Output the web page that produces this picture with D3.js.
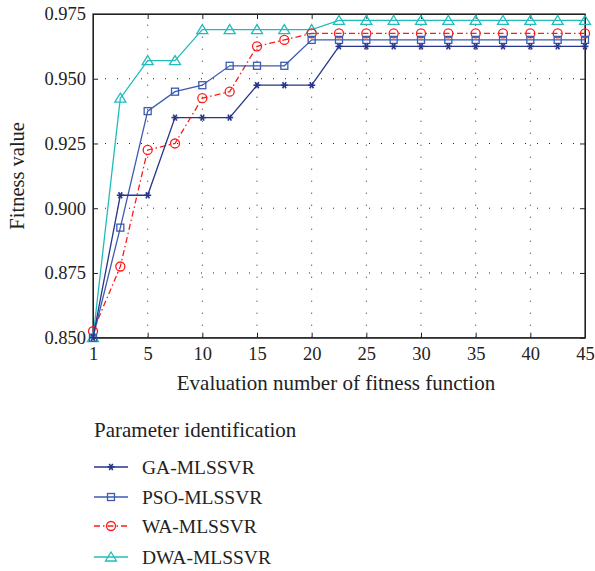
<!DOCTYPE html>
<html>
<head>
<meta charset="utf-8">
<script src="https://cdn.jsdelivr.net/npm/d3@7"></script>
<style>
  body { margin: 0; background: #fff; }
  text { font-family: "Liberation Serif", "DejaVu Serif", serif; }
</style>
</head>
<body>
<div id="chart"></div>
<script>
const W = 595, H = 571;
const margin = {left: 93, top: 14, right: 10, bottom: 233};

// evaluation points (first point drawn at the "1" tick)
const xValues = [0, 2.5, 5, 7.5, 10, 12.5, 15, 17.5, 20, 22.5, 25, 27.5, 30, 32.5, 35, 37.5, 40, 42.5, 45];
const xTicks = [0, 5, 10, 15, 20, 25, 30, 35, 40, 45];
const xTickLabels = ['1', '5', '10', '15', '20', '25', '30', '35', '40', '45'];
const yTicks = [0.850, 0.875, 0.900, 0.925, 0.950, 0.975];

const gaValues  = [0.850, 0.905, 0.905, 0.935, 0.935, 0.935, 0.9475, 0.9475, 0.9475, 0.9625, 0.9625, 0.9625, 0.9625, 0.9625, 0.9625, 0.9625, 0.9625, 0.9625, 0.9625];
const psoValues = [0.850, 0.8925, 0.9375, 0.945, 0.9475, 0.955, 0.955, 0.955, 0.965, 0.965, 0.965, 0.965, 0.965, 0.965, 0.965, 0.965, 0.965, 0.965, 0.965];
const waValues  = [0.8525, 0.8775, 0.9225, 0.925, 0.9425, 0.945, 0.9625, 0.965, 0.9675, 0.9675, 0.9675, 0.9675, 0.9675, 0.9675, 0.9675, 0.9675, 0.9675, 0.9675, 0.9675];
const dwaValues = [0.850, 0.9425, 0.957, 0.957, 0.969, 0.969, 0.969, 0.969, 0.969, 0.9725, 0.9725, 0.9725, 0.9725, 0.9725, 0.9725, 0.9725, 0.9725, 0.9725, 0.9725];

const seriesNames = ['GA-MLSSVR', 'PSO-MLSSVR', 'WA-MLSSVR', 'DWA-MLSSVR'];
const series = [
    {name: seriesNames[0], values: gaValues,  color: '#27358a', marker: 'star',     dash: null},
    {name: seriesNames[1], values: psoValues, color: '#3c5bb0', marker: 'square',   dash: null},
    {name: seriesNames[2], values: waValues,  color: '#ff1a1a', marker: 'circle',   dash: '6,3,1.5,3'},
    {name: seriesNames[3], values: dwaValues, color: '#22bcbc', marker: 'triangle', dash: null}
];

const svg = d3.select('#chart').append('svg').attr('width', W).attr('height', H);

const x = d3.scaleLinear().domain([0, 45]).range([margin.left, W - margin.right]);
const y = d3.scaleLinear().domain([0.850, 0.975]).range([H - margin.bottom - 0.3, margin.top]);

const x0 = x.range()[0], x1 = x.range()[1];
const y0 = y.range()[0], y1 = y.range()[1];

// dotted grid
const grid = svg.append('g');
xTicks.slice(1, -1).forEach(t => {
    grid.append('line').attr('x1', x(t)).attr('x2', x(t)).attr('y1', y0).attr('y2', y1)
        .attr('stroke', '#222').attr('stroke-width', 1).attr('stroke-dasharray', '1,11');
});
yTicks.slice(1, -1).forEach(t => {
    grid.append('line').attr('x1', x0).attr('x2', x1).attr('y1', y(t)).attr('y2', y(t))
        .attr('stroke', '#222').attr('stroke-width', 1).attr('stroke-dasharray', '1,11');
});

// axes with inward ticks
const xAxis = svg.append('g').attr('transform', 'translate(0,' + y0 + ')')
    .call(d3.axisBottom(x).tickValues(xTicks).tickSizeInner(-5).tickSizeOuter(0)
        .tickFormat((d, i) => xTickLabels[i]));
xAxis.selectAll('text').attr('dy', 0).attr('y', 22).attr('font-size', 18.5).attr('fill', '#222');

const yAxis = svg.append('g').attr('transform', 'translate(' + x0 + ',0)')
    .call(d3.axisLeft(y).tickValues(yTicks).tickSizeInner(-5).tickSizeOuter(0).tickFormat(d3.format('.3f')));
yAxis.selectAll('text').attr('x', -7).attr('font-size', 18.5).attr('fill', '#222');

// right / top ticks
svg.append('g').attr('transform', 'translate(' + x1 + ',0)')
    .call(d3.axisRight(y).tickValues(yTicks).tickSizeInner(-5).tickSizeOuter(0).tickFormat(''));
svg.append('g').attr('transform', 'translate(0,' + y1 + ')')
    .call(d3.axisTop(x).tickValues(xTicks).tickSizeInner(-5).tickSizeOuter(0).tickFormat(''));

svg.selectAll('.domain').attr('stroke', '#222');
svg.selectAll('.tick line').attr('stroke', '#222');

svg.append('rect').attr('x', x0).attr('y', y1).attr('width', x1 - x0).attr('height', y0 - y1)
    .attr('fill', 'none').attr('stroke', '#222').attr('stroke-width', 1.2);

// labels
svg.append('text').attr('x', (x0 + x1) / 2 - 3).attr('y', 390).attr('text-anchor', 'middle')
    .attr('font-size', 21).attr('fill', '#222').text('Evaluation number of fitness function');
svg.append('text').attr('transform', 'translate(24,' + ((y0 + y1) / 2) + ') rotate(-90)')
    .attr('text-anchor', 'middle').attr('font-size', 20.5).attr('fill', '#222').text('Fitness value');

function drawMarker(g, type, cx, cy, color) {
    if (type === 'star') {
        [0, 60, 120].forEach(a => {
            const r = 3.5, rad = a * Math.PI / 180;
            g.append('line').attr('x1', cx - r * Math.cos(rad)).attr('y1', cy - r * Math.sin(rad))
                .attr('x2', cx + r * Math.cos(rad)).attr('y2', cy + r * Math.sin(rad))
                .attr('stroke', color).attr('stroke-width', 1.6);
        });
    } else if (type === 'square') {
        g.append('rect').attr('x', cx - 3.5).attr('y', cy - 3.5).attr('width', 7).attr('height', 7)
            .attr('fill', 'none').attr('stroke', color).attr('stroke-width', 1.3);
    } else if (type === 'circle') {
        g.append('circle').attr('cx', cx).attr('cy', cy).attr('r', 4.5)
            .attr('fill', 'none').attr('stroke', color).attr('stroke-width', 1.3);
    } else {
        g.append('path').attr('d', 'M' + cx + ',' + (cy - 5) + 'L' + (cx + 5.5) + ',' + (cy + 4) + 'L' + (cx - 5.5) + ',' + (cy + 4) + 'Z')
            .attr('fill', 'none').attr('stroke', color).attr('stroke-width', 1.3);
    }
}

const line = d3.line().x((d, i) => x(xValues[i])).y(d => y(d));

// draw back to front: DWA, WA, PSO, GA
[3, 2, 1, 0].forEach(k => {
    const s = series[k];
    const g = svg.append('g');
    g.append('path').datum(s.values).attr('d', line).attr('fill', 'none')
        .attr('stroke', s.color).attr('stroke-width', 1.3)
        .attr('stroke-dasharray', s.dash);
    s.values.forEach((v, i) => drawMarker(g, s.marker, x(xValues[i]), y(v), s.color));
});

// legend
const legend = svg.append('g');
legend.append('text').attr('x', 94).attr('y', 437).attr('font-size', 21).attr('fill', '#222')
    .text('Parameter identification');
const legendY = [467, 497, 526, 557];
series.forEach((s, i) => {
    const ly = legendY[i];
    legend.append('line').attr('x1', 94).attr('x2', 128).attr('y1', ly).attr('y2', ly)
        .attr('stroke', s.color).attr('stroke-width', 1.3).attr('stroke-dasharray', s.dash);
    drawMarker(legend, s.marker, 111, ly, s.color);
    legend.append('text').attr('x', 142).attr('y', ly + 7).attr('font-size', 19.5).attr('fill', '#222').text(s.name);
});
</script>
</body>
</html>
